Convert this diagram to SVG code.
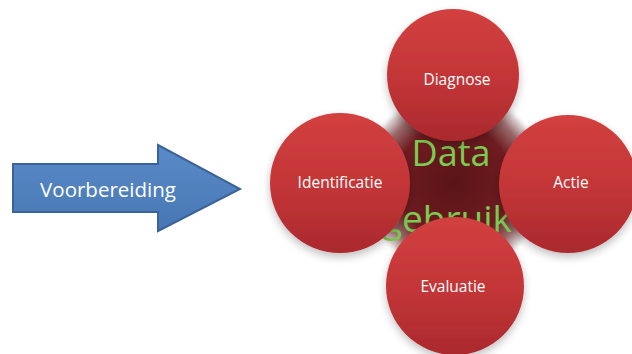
<svg xmlns="http://www.w3.org/2000/svg" width="632" height="354" viewBox="0 0 632 354">
<defs>
<linearGradient id="red" x1="0" y1="0" x2="0" y2="1">
<stop offset="0" stop-color="#D2403F"/>
<stop offset="0.5" stop-color="#C43638"/>
<stop offset="1" stop-color="#AA292D"/>
</linearGradient>
<radialGradient id="hub" cx="0.5" cy="0.5" r="0.5">
<stop offset="0" stop-color="#5A1417"/>
<stop offset="0.6" stop-color="#6E1C20"/>
<stop offset="0.8" stop-color="#9A6A6C"/>
<stop offset="0.92" stop-color="#D8CFCF"/>
<stop offset="1" stop-color="#FFFFFF" stop-opacity="0"/>
</radialGradient>
<linearGradient id="blue" x1="0" y1="0" x2="0" y2="1">
<stop offset="0" stop-color="#5A8BC8"/>
<stop offset="1" stop-color="#4777B3"/>
</linearGradient>
<filter id="sh" x="-20%" y="-20%" width="140%" height="150%">
<feGaussianBlur in="SourceAlpha" stdDeviation="4"/>
<feOffset dx="0" dy="4" result="b"/>
<feComponentTransfer><feFuncA type="linear" slope="0.25"/></feComponentTransfer>
<feMerge><feMergeNode/><feMergeNode in="SourceGraphic"/></feMerge>
</filter>
</defs>
<style>
.node{fill:url(#red);filter:url(#sh)}
.lbl{font-family:"Open Sans","Liberation Sans",sans-serif;font-size:15.5px;fill:#FFFFFF;text-anchor:middle}
.big{font-family:"Open Sans","Liberation Sans",sans-serif;fill:#7CCB52;text-anchor:middle}
</style>
<rect width="632" height="354" fill="#FFFFFF"/>
<g id="voorbereiding">
<polygon points="13,164 158,164 158,145 240,189 158,231 158,212 13,212" fill="url(#blue)" stroke="#3A6499" stroke-width="2" stroke-linejoin="miter"/>
<text x="108" y="197" style="font-family:'Open Sans','Liberation Sans',sans-serif;font-size:20.5px;fill:#FFFFFF;text-anchor:middle">Voorbereiding</text>
</g>
<g id="data-gebruik">
<circle cx="454" cy="182" r="95" fill="url(#hub)"/>
<text class="big" x="451" y="166" font-size="36">Data</text>
<text class="big" x="447" y="232" font-size="37">gebruik</text>
</g>
<g id="connectors"></g>
<g id="diagnose">
<circle class="node" cx="453" cy="75" r="66"/>
<text class="lbl" x="457" y="85">Diagnose</text>
</g>
<g id="identificatie">
<circle class="node" cx="340" cy="183" r="70"/>
<text class="lbl" x="340" y="188">Identificatie</text>
</g>
<g id="actie">
<circle class="node" cx="568" cy="184" r="69"/>
<text class="lbl" x="571" y="188">Actie</text>
</g>
<g id="evaluatie">
<circle class="node" cx="455" cy="286" r="69"/>
<text class="lbl" x="453" y="292">Evaluatie</text>
</g>
</svg>
